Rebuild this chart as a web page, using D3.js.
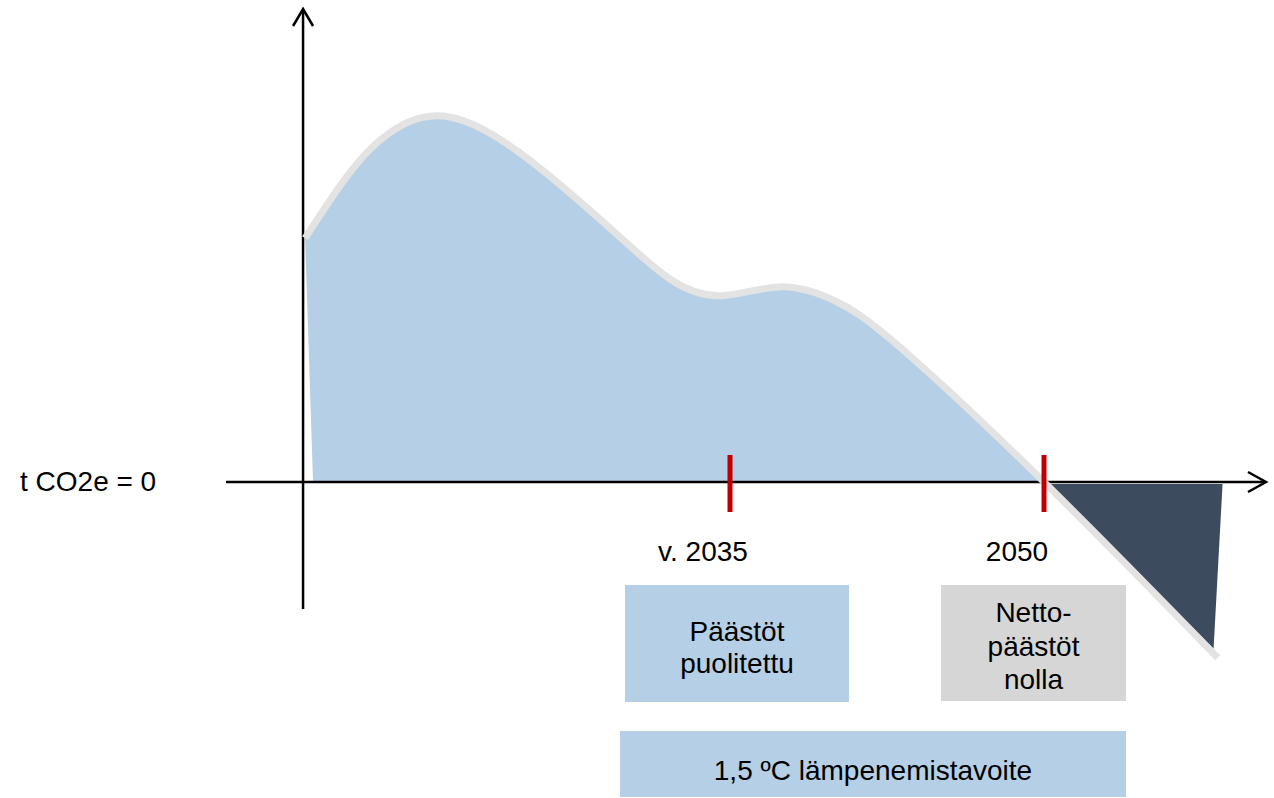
<!DOCTYPE html>
<meta charset="utf-8">
<style>

body, html {
    margin: 0px;
    padding: 0px;
    background: #fff;
    overflow: hidden;
}

svg text {
  font-family: "Liberation Sans", Arial, sans-serif;
  font-size: 28px;
  fill: #000;
}

</style>
<svg width="1274" height="798"></svg>
<script src="https://d3js.org/d3.v7.min.js"></script>
<script>

// emission path (conceptual, peak = 100)
var years     = [2014.7, 2016.4, 2018.3, 2021.0, 2024.0, 2026.9, 2029.8, 2032.2, 2034.6, 2037.4, 2040.0, 2043.1, 2050, 2058.3];
var emissions = [67.0, 81.6, 94.0, 100.6, 94.2, 81.6, 67.0, 55.5, 51.2, 53.6, 49.8, 37.1, 0, -48.3];

// net negative part after 2050
var sinkYears  = [2050.2, 2058.1];
var sinkValues = [0, -45.8];

var milestones = [2035, 2050];
var milestoneLabels = ["v. 2035", "2050"];

var zeroLabel = "t CO2e = 0";
var box1Lines = ["Päästöt", "puolitettu"];
var box2Lines = ["Netto-", "päästöt", "nolla"];
var box3Lines = ["1,5 ºC lämpenemistavoite"];

var svg = d3.select("svg");

var x = d3.scaleLinear().domain([2035, 2050]).range([730, 1044]),
    y = d3.scaleLinear().domain([0, 100]).range([482, 118]);

var pts = years.map(function(d, i) { return {year: d, v: emissions[i]}; });
var above = pts.filter(function(d) { return d.year <= 2050; });
var sink = sinkYears.map(function(d, i) { return {year: d, v: sinkValues[i]}; });

var x0 = x(years[0]);
var curve = d3.curveNatural;

// blue area under the curve (left side slightly slanted like the original)
var area = d3.area()
    .curve(curve)
    .x1(function(d) { return x(d.year); })
    .x0(function(d) { return Math.max(x(d.year), x0 + 8); })
    .y1(function(d) { return y(d.v); })
    .y0(y(0));

svg.append("path")
    .datum(above)
    .attr("d", area)
    .attr("fill", "#b4cfe6");

// dark triangle below zero
svg.append("path")
    .datum(sink)
    .attr("d", d3.area()
        .x1(function(d) { return x(d.year); })
        .x0(function(d) { return x(d.year) + (d.v < 0 ? 9 : 0); })
        .y1(function(d) { return y(d.v); })
        .y0(y(0) + 2))
    .attr("fill", "#3d4b5e");

// axes
var axisY = x0 - 2;
svg.append("line")
    .attr("x1", 226).attr("x2", 1265)
    .attr("y1", y(0)).attr("y2", y(0))
    .attr("stroke", "#000").attr("stroke-width", 2.5);
svg.append("line")
    .attr("x1", axisY).attr("x2", axisY)
    .attr("y1", 9).attr("y2", 609)
    .attr("stroke", "#000").attr("stroke-width", 2.5);

svg.append("path")
    .attr("d", "M" + (axisY - 10) + ",26L" + axisY + ",9L" + (axisY + 10) + ",26")
    .attr("fill", "none").attr("stroke", "#000").attr("stroke-width", 2.5);
svg.append("path")
    .attr("d", "M1248," + (y(0) - 10) + "L1266," + y(0) + "L1248," + (y(0) + 10))
    .attr("fill", "none").attr("stroke", "#000").attr("stroke-width", 2.5);

// gray curve on top
var line = d3.line()
    .curve(curve)
    .x(function(d) { return x(d.year); })
    .y(function(d) { return y(d.v); });

svg.append("path")
    .datum(pts)
    .attr("d", line)
    .attr("fill", "none")
    .attr("stroke", "#e3e3e3")
    .attr("stroke-width", 7)
    .attr("stroke-linejoin", "round");

// red milestone ticks
svg.selectAll(".tick")
    .data(milestones)
  .enter().append("rect")
    .attr("class", "tick")
    .attr("x", function(d) { return x(d) - 2.5; })
    .attr("y", y(0) - 27)
    .attr("width", 5)
    .attr("height", 57)
    .attr("fill", "#c00000");

svg.selectAll(".mlabel")
    .data(milestones)
  .enter().append("text")
    .attr("class", "mlabel")
    .attr("x", function(d) { return x(d) - 27; })
    .attr("y", 561)
    .attr("text-anchor", "middle")
    .text(function(d, i) { return milestoneLabels[i]; });

svg.append("text")
    .attr("x", 20)
    .attr("y", y(0) + 9)
    .text(zeroLabel);

// boxes
function box(x1, y1, w, h, color, lines, firstBase, step) {
  svg.append("rect")
      .attr("x", x1).attr("y", y1)
      .attr("width", w).attr("height", h)
      .attr("fill", color);
  svg.selectAll(null)
      .data(lines)
    .enter().append("text")
      .attr("x", x1 + w / 2)
      .attr("y", function(d, i) { return firstBase + i * step; })
      .attr("text-anchor", "middle")
      .text(function(d) { return d; });
}

box(625, 585, 224, 117, "#b4cfe6", box1Lines, 641, 32);
box(941, 585, 185, 116, "#d6d6d6", box2Lines, 622, 33.5);
box(620, 731, 506, 66, "#b4cfe6", box3Lines, 780, 0);

</script>
